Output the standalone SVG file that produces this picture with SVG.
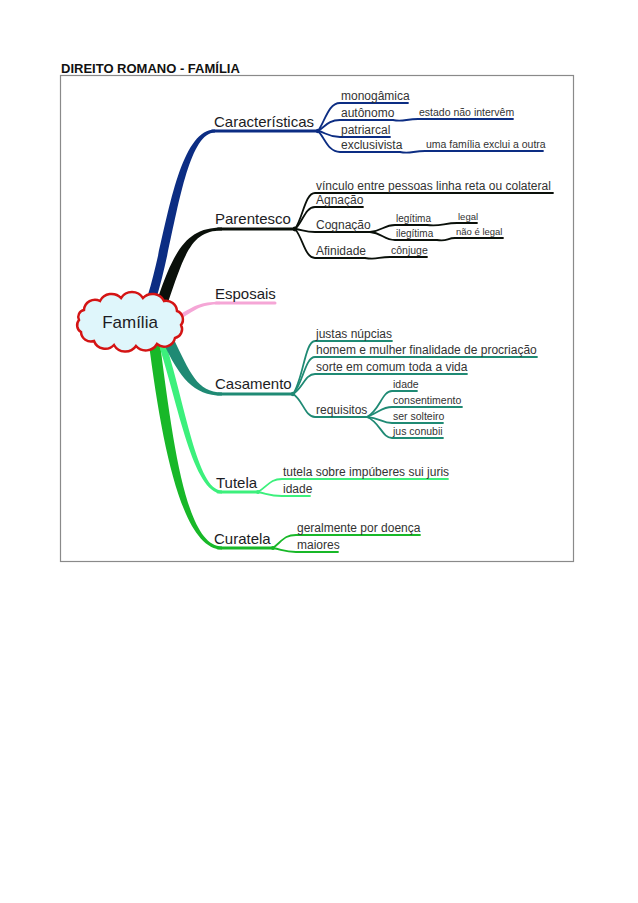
<svg xmlns="http://www.w3.org/2000/svg" width="638" height="903" viewBox="0 0 638 903">
<style>
text{font-family:"Liberation Sans",Arial,sans-serif;}
.title{font-size:13px;font-weight:bold;fill:#111;}
.main{font-size:15px;fill:#1c1c24;}
.sub{font-size:12px;fill:#333;}
.s3{font-size:10.5px;fill:#333;}
.s4{font-size:9.5px;fill:#333;}
.ln{fill:none;stroke-width:1.8;stroke-linecap:round;}
.hl{fill:none;stroke-width:3;stroke-linecap:round;}
.nv{stroke:#0c2d83;} .bk{stroke:#0a100a;} .pk{stroke:#f5a6d6;} .tl{stroke:#1f8a74;} .lg{stroke:#3cf07c;} .gr{stroke:#18b828;}
</style>
<rect width="638" height="903" fill="#fff"/>
<text class="title" x="61" y="73">DIREITO ROMANO - FAMÍLIA</text>
<rect x="60.5" y="75.5" width="513" height="486" fill="none" stroke="#8a8a8a" stroke-width="1.2"/>

<g id="connectors">
  <!-- main tapered branches -->
  <path d="M159.5,339.5 C173.5,449.5 187,546.5 222,546.5 L222,549.5 C183,549.5 162.5,450.5 148.5,340.5 Z" fill="#18b828"/>
  <path d="M164.4,339.2 C185.4,404.2 197,490.5 222,490.5 L222,493.5 C193,493.5 178.6,405.8 157.6,340.8 Z" fill="#3cf07c"/>
  <path d="M173,337.6 C190,372.6 197,392.5 222,392.5 L222,395.5 C193,395.5 180,377.4 163,342.4 Z" fill="#1f8a74"/>
  <path d="M178,315.5 C195,305.5 200,301.7 220,301.7 L220,304.3 C200,304.3 195,310.5 178,320.5 Z" fill="#f5a6d6"/>
  <path d="M147.7,295.6 C165.7,238.6 176,129.5 215,129.5 L215,132.5 C184,132.5 174.3,241.4 156.3,298.4 Z" fill="#0c2d83"/>
  <path d="M157.8,298.2 C174.8,248.2 188,227.5 222,227.5 L222,230.5 C192,230.5 185.2,251.8 168.2,301.8 Z" fill="#0a100a"/>
  <!-- main underlines -->
  <path class="hl nv" d="M212,131 H318"/>
  <path class="hl bk" d="M218,229 H295"/>
  <path class="hl pk" d="M216,303 H275"/>
  <path class="hl tl" d="M218,394 H293"/>
  <path class="hl lg" d="M218,492 H258"/>
  <path class="hl gr" d="M218,548 H273"/>
  <circle cx="318" cy="131" r="2.2" fill="#0c2d83"/>
  <circle cx="295" cy="229" r="2.4" fill="#0a100a"/>
  <circle cx="293" cy="394" r="2.2" fill="#1f8a74"/>
  <circle cx="258" cy="492" r="2" fill="#3cf07c"/>
  <circle cx="273" cy="548" r="2" fill="#18b828"/>
  <!-- Caracteristicas -->
  <path class="ln nv" d="M318,131 C325,122 328,103 340,103 H408"/>
  <path class="ln nv" d="M318,131 C325,127 328,120 340,120 H393"/>
  <path class="ln nv" d="M318,131 C325,132 328,137 340,137 H390"/>
  <path class="ln nv" d="M318,131 C325,138 328,152 340,152 H400"/>
  <path class="ln nv" d="M393,120 C403,122 406,119 418,119 H513"/>
  <path class="ln nv" d="M400,152 C410,154 413,151 425,151 H543"/>
  <!-- Parentesco -->
  <path class="ln bk" d="M295,229 C303,218 305,193 315,193 H553"/>
  <path class="ln bk" d="M295,229 C303,222 305,207 315,207 H363"/>
  <path class="ln bk" d="M295,229 C303,230 305,232 315,232 H370"/>
  <path class="ln bk" d="M295,229 C303,238 305,258 315,258 H365"/>
  <path class="ln bk" d="M370,232 C382,231 384,225 395,225 H427"/>
  <path class="ln bk" d="M370,232 C382,233 384,240 395,240 H437"/>
  <path class="ln bk" d="M427,225 C440,227 444,223 457,223 H477"/>
  <path class="ln bk" d="M437,240 C447,242 447,238 455,238 H503"/>
  <path class="ln bk" d="M365,258 C377,260 378,257 390,257 H427"/>
  <!-- Casamento -->
  <path class="ln tl" d="M293,394 C303,380 305,341 315,341 H392"/>
  <path class="ln tl" d="M293,394 C303,384 305,357 315,357 H537"/>
  <path class="ln tl" d="M293,394 C303,388 305,374 315,374 H467"/>
  <path class="ln tl" d="M293,394 C303,400 305,417 315,417 H367"/>
  <path class="ln tl" d="M367,417 C380,410 382,391 392,391 H417"/>
  <path class="ln tl" d="M367,417 C380,412 382,407 392,407 H462"/>
  <path class="ln tl" d="M367,417 C380,418 382,423 392,423 H443"/>
  <path class="ln tl" d="M367,417 C380,422 382,438 392,438 H443"/>
  <!-- Tutela -->
  <path class="ln lg" d="M258,492 C268,486 270,479 282,479 H448"/>
  <path class="ln lg" d="M258,492 C268,494 270,496 282,496 H310"/>
  <!-- Curatela -->
  <path class="ln gr" d="M273,548 C283,540 285,535 296,535 H420"/>
  <path class="ln gr" d="M273,548 C283,550 285,552 296,552 H338"/>
</g>

<g id="familia">
  <path d="M84,310 A11,11 0 0 1 100,301 A13,13 0 0 1 121,298 A13,13 0 0 1 143,298 A13,13 0 0 1 164,301 A11,11 0 0 1 177,311 A9,9 0 0 1 181,325 A9,9 0 0 1 175,338 A11,11 0 0 1 157,344 A13,13 0 0 1 136,346 A13,13 0 0 1 114,345 A12,12 0 0 1 94,341 A10,10 0 0 1 81,332 A8,8 0 0 1 79,320 A7,7 0 0 1 84,310 Z" fill="#dff6fb" stroke="#d41414" stroke-width="2.5"/>
  <text x="130" y="328" text-anchor="middle" style="font-size:17px;fill:#1c1c24">Família</text>
</g>

<g id="caracteristicas">
  <text class="main" x="214" y="127">Características</text>
  <text class="sub" x="341" y="100">monogâmica</text>
  <text class="sub" x="341" y="117">autônomo</text>
  <text class="s3" x="419" y="116">estado não intervêm</text>
  <text class="sub" x="341" y="134">patriarcal</text>
  <text class="sub" x="341" y="149">exclusivista</text>
  <text class="s3" x="426" y="148">uma família exclui a outra</text>
</g>

<g id="parentesco">
  <text class="main" x="215" y="224">Parentesco</text>
  <text class="sub" x="316" y="190">vínculo entre pessoas linha reta ou colateral</text>
  <text class="sub" x="316" y="204">Agnação</text>
  <text class="sub" x="316" y="229">Cognação</text>
  <text class="s3" x="396" y="222" style="font-size:10px">legítima</text>
  <text class="s4" x="458" y="220">legal</text>
  <text class="s3" x="396" y="237" style="font-size:10px">ilegítima</text>
  <text class="s4" x="456" y="235">não é legal</text>
  <text class="sub" x="316" y="255">Afinidade</text>
  <text class="s3" x="391" y="254">cônjuge</text>
</g>

<g id="esposais">
  <text class="main" x="215" y="299">Esposais</text>
</g>

<g id="casamento">
  <text class="main" x="215" y="389">Casamento</text>
  <text class="sub" x="316" y="338">justas núpcias</text>
  <text class="sub" x="316" y="354">homem e mulher finalidade de procriação</text>
  <text class="sub" x="316" y="371">sorte em comum toda a vida</text>
  <text class="sub" x="316" y="414">requisitos</text>
  <text class="s3" x="393" y="388">idade</text>
  <text class="s3" x="393" y="404">consentimento</text>
  <text class="s3" x="393" y="420">ser solteiro</text>
  <text class="s3" x="393" y="435">jus conubii</text>
</g>

<g id="tutela">
  <text class="main" x="216" y="488">Tutela</text>
  <text class="sub" x="283" y="476">tutela sobre impúberes sui juris</text>
  <text class="sub" x="283" y="493">idade</text>
</g>

<g id="curatela">
  <text class="main" x="214" y="544">Curatela</text>
  <text class="sub" x="297" y="532">geralmente por doença</text>
  <text class="sub" x="297" y="549">maiores</text>
</g>
</svg>
